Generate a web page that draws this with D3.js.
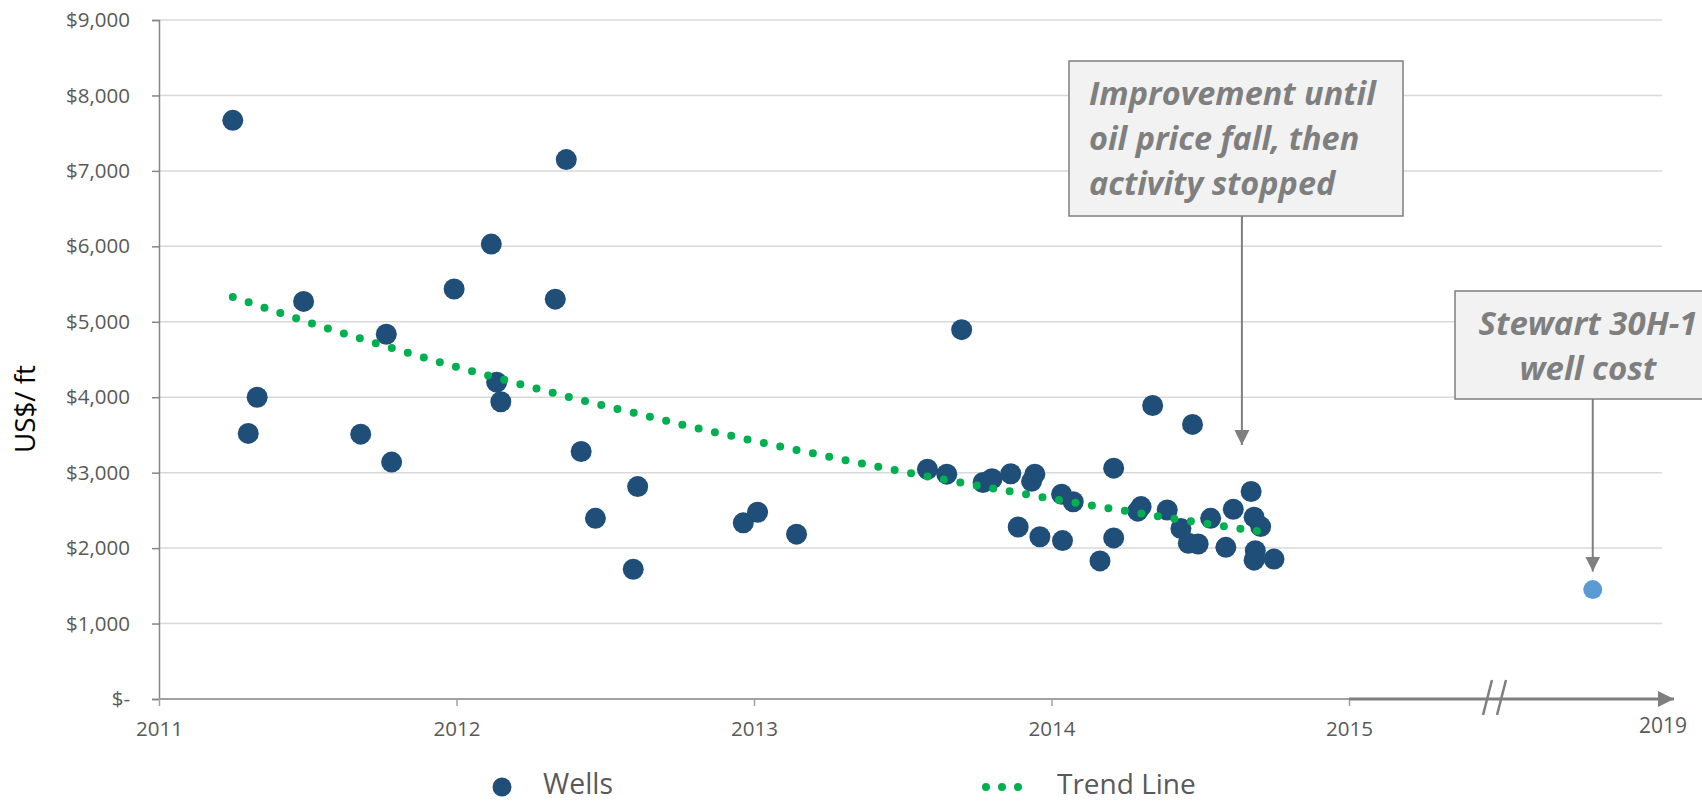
<!DOCTYPE html>
<html>
<head>
<meta charset="utf-8">
<script src="https://cdn.jsdelivr.net/npm/d3@7"></script>
<style>
  body { margin: 0; background: #fff; }
  svg { display: block; font-family: "Open Sans", sans-serif; }
</style>
</head>
<body>
<svg id="chart" width="1702" height="802"></svg>
<script>
// wells: decimal year and cost per foot (US$)
const wellDates = [
  2011.248, 2012.369, 2012.117, 2011.992, 2011.486, 2012.332, 2011.764, 2011.330,
  2011.300, 2012.135, 2012.149, 2011.678, 2011.782, 2012.419, 2012.609, 2012.467,
  2012.594, 2013.698, 2012.964, 2013.012, 2013.143, 2013.583, 2013.648, 2013.770,
  2013.800, 2013.863, 2013.944, 2013.933, 2014.034, 2014.073, 2013.888, 2013.961,
  2014.037, 2014.163, 2014.209, 2014.209, 2014.340, 2014.474, 2014.301, 2014.290,
  2014.389, 2014.435, 2014.460, 2014.493, 2014.535, 2014.586, 2014.611, 2014.671,
  2014.681, 2014.703, 2014.685, 2014.681, 2014.748
];
const wellCosts = [
  7670, 7150, 6030, 5435, 5270, 5300, 4835, 4000,
  3520, 4200, 3940, 3510, 3140, 3280, 2815, 2395,
  1720, 4895, 2335, 2475, 2185, 3045, 2980, 2870,
  2920, 2985, 2980, 2885, 2715, 2615, 2280, 2150,
  2100, 1830, 3060, 2135, 3890, 3640, 2550, 2490,
  2505, 2260, 2065, 2055, 2395, 2010, 2515, 2750,
  2410, 2285, 1965, 1840, 1855
];

// trend line
const trendDates = [2011.248, 2011.527, 2011.752, 2011.977, 2012.146, 2012.374, 2012.602, 2012.772,
                    2013.118, 2013.348, 2013.522, 2013.754, 2013.986, 2014.276, 2014.566, 2014.742];
const trendCosts = [5330, 4962, 4689, 4427, 4246, 4007, 3787, 3623,
                    3323, 3133, 2996, 2827, 2664, 2475, 2297, 2196];

// Stewart 30H-1
const stewartDate = 2018.0;
const stewartCost = 1450;

const yTicks = [0, 1000, 2000, 3000, 4000, 5000, 6000, 7000, 8000, 9000];
const xTicks = [2011, 2012, 2013, 2014, 2015];

const svg = d3.select('#chart');

const x = d3.scaleLinear().domain([2011, 2015, 2019]).range([159, 1349, 1674]);
const y = d3.scaleLinear().domain([0, 9000]).range([699, 20]);

const grey = '#595959';
const fmt = d => d === 0 ? '$-' : '$' + d3.format(',')(d);

// scale font so a sample text gets the width it has in the original
function fitFont(sel, sample, width) {
  const fs = parseFloat(sample.style.fontSize);
  const size = fs * width / sample.getComputedTextLength();
  sel.style('font-size', size.toFixed(2) + 'px');
}

// gridlines
svg.append('g')
  .selectAll('line')
  .data(yTicks.filter(d => d > 0))
  .join('line')
  .attr('x1', x(2011)).attr('x2', 1662)
  .attr('y1', d => y(d)).attr('y2', d => y(d))
  .attr('stroke', '#d9d9d9').attr('stroke-width', 1.5);

// y axis
const yAxis = svg.append('g')
  .attr('transform', `translate(${x(2011)},0)`)
  .call(d3.axisLeft(y).tickValues(yTicks).tickFormat(fmt).tickSize(7).tickPadding(22));
yAxis.select('.domain').attr('stroke', '#868686').attr('stroke-width', 1.5);
yAxis.selectAll('.tick line').attr('stroke', '#868686').attr('stroke-width', 1.5);
const yLabels = yAxis.selectAll('.tick text').attr('fill', grey)
  .style('font-size', '21px').style('font-family', '"Open Sans", sans-serif');
fitFont(yLabels, yLabels.nodes()[9], 64);

// x axis (2011-2015)
const xAxis = svg.append('g')
  .attr('transform', `translate(0,${y(0)})`)
  .call(d3.axisBottom(x).tickValues(xTicks).tickFormat(d3.format('d')).tickSize(7).tickPadding(15));
xAxis.select('.domain').remove();
xAxis.append('line')
  .attr('x1', x(2011)).attr('x2', x(2015))
  .attr('stroke', '#a0a0a0').attr('stroke-width', 2);
xAxis.selectAll('.tick line').attr('stroke', '#a0a0a0').attr('stroke-width', 1.5);
const xLabels = xAxis.selectAll('.tick text').attr('fill', grey)
  .style('font-size', '21px').style('font-family', '"Open Sans", sans-serif');

// broken extension to 2019
svg.append('defs').append('marker')
  .attr('id', 'axisArrow')
  .attr('viewBox', '0 0 10 10')
  .attr('refX', 10).attr('refY', 5)
  .attr('markerWidth', 5.5).attr('markerHeight', 5.5)
  .attr('markerUnits', 'strokeWidth')
  .attr('orient', 'auto')
  .append('path').attr('d', 'M0,0L10,5L0,10Z').attr('fill', '#7f7f7f');

svg.append('line')
  .attr('x1', x(2015)).attr('x2', x(2019))
  .attr('y1', y(0)).attr('y2', y(0))
  .attr('stroke', '#7f7f7f').attr('stroke-width', 3)
  .attr('marker-end', 'url(#axisArrow)');

const breakX = 1495;
[-7, 7].forEach(dx => {
  svg.append('line')
    .attr('x1', breakX + dx + 4).attr('y1', y(0) - 19)
    .attr('x2', breakX + dx - 5).attr('y2', y(0) + 16)
    .attr('stroke', '#7f7f7f').attr('stroke-width', 2.5);
});

const lastLabel = svg.append('text')
  .attr('x', x(2019) - 11).attr('y', y(0) + 34)
  .attr('text-anchor', 'middle')
  .attr('fill', grey).style('font-size', '21px')
  .text('2019');
fitFont(xLabels.merge(lastLabel), xLabels.nodes()[0], 47);

// y axis title
const yTitle = svg.append('text')
  .attr('transform', 'translate(35,409) rotate(-90)')
  .attr('text-anchor', 'middle')
  .attr('fill', '#000').style('font-size', '28px')
  .text('US$/ ft');
fitFont(yTitle, yTitle.node(), 88);

// wells
svg.append('g')
  .selectAll('circle')
  .data(wellDates.map((d, i) => [d, wellCosts[i]]))
  .join('circle')
  .attr('cx', d => x(d[0]))
  .attr('cy', d => y(d[1]))
  .attr('r', 10.5)
  .attr('fill', '#1f4e79');

// trend line
const trendLine = d3.line()
  .x(d => x(d[0]))
  .y(d => y(d[1]))
  .curve(d3.curveMonotoneX);

svg.append('path')
  .datum(trendDates.map((d, i) => [d, trendCosts[i]]))
  .attr('d', trendLine)
  .attr('fill', 'none')
  .attr('stroke', '#00b050')
  .attr('stroke-width', 8)
  .attr('stroke-linecap', 'round')
  .attr('stroke-dasharray', '0 16.7');

// Stewart point
svg.append('circle')
  .attr('cx', x(stewartDate)).attr('cy', y(stewartCost))
  .attr('r', 9.5).attr('fill', '#5b9bd5');

// annotations
svg.select('defs').append('marker')
  .attr('id', 'noteArrow')
  .attr('viewBox', '0 0 10 10')
  .attr('refX', 10).attr('refY', 5)
  .attr('markerWidth', 7.5).attr('markerHeight', 8)
  .attr('markerUnits', 'strokeWidth')
  .attr('orient', 'auto')
  .append('path').attr('d', 'M0,0L10,5L0,10Z').attr('fill', '#7f7f7f');

function note(box, lines, anchor, textX, tip, firstWidth) {
  const g = svg.append('g');
  g.append('line')
    .attr('x1', tip[0]).attr('x2', tip[0])
    .attr('y1', box.y + box.h).attr('y2', tip[1])
    .attr('stroke', '#7f7f7f').attr('stroke-width', 2)
    .attr('marker-end', 'url(#noteArrow)');
  g.append('rect')
    .attr('x', box.x).attr('y', box.y)
    .attr('width', box.w).attr('height', box.h)
    .attr('fill', '#f2f2f2').attr('stroke', '#7f7f7f').attr('stroke-width', 1.5);
  const t = g.selectAll('text')
    .data(lines)
    .join('text')
    .attr('x', textX)
    .attr('y', (d, i) => box.y + 44 + i * 45)
    .attr('text-anchor', anchor)
    .attr('fill', '#7f7f7f')
    .style('font-size', '30px')
    .style('font-weight', 'bold')
    .style('font-style', 'italic')
    .text(d => d);
  fitFont(t, t.nodes()[0], firstWidth);
}

note({ x: 1069, y: 61, w: 334, h: 155 },
  ['Improvement until', 'oil price fall, then', 'activity stopped'],
  'start', 1089, [x(2014.64), y(3367)], 287);

note({ x: 1455, y: 291, w: 266, h: 108 },
  ['Stewart 30H-1', 'well cost'],
  'middle', 1588, [x(stewartDate), y(stewartCost) - 18], 219);

// legend (kept just inside the bottom edge)
const legend = svg.append('g');
legend.append('circle').attr('cx', 502).attr('cy', 787).attr('r', 9.5).attr('fill', '#1f4e79');
const wellsText = legend.append('text').attr('x', 543).attr('y', 794)
  .attr('fill', grey).style('font-size', '28px').text('Wells');
legend.append('line')
  .attr('x1', 986).attr('x2', 1034).attr('y1', 787).attr('y2', 787)
  .attr('stroke', '#00b050').attr('stroke-width', 8)
  .attr('stroke-linecap', 'round').attr('stroke-dasharray', '0 16');
const trendText = legend.append('text').attr('x', 1057).attr('y', 794)
  .attr('fill', grey).style('font-size', '28px').text('Trend Line');
fitFont(wellsText.merge(trendText), wellsText.node(), 70);
</script>
</body>
</html>
